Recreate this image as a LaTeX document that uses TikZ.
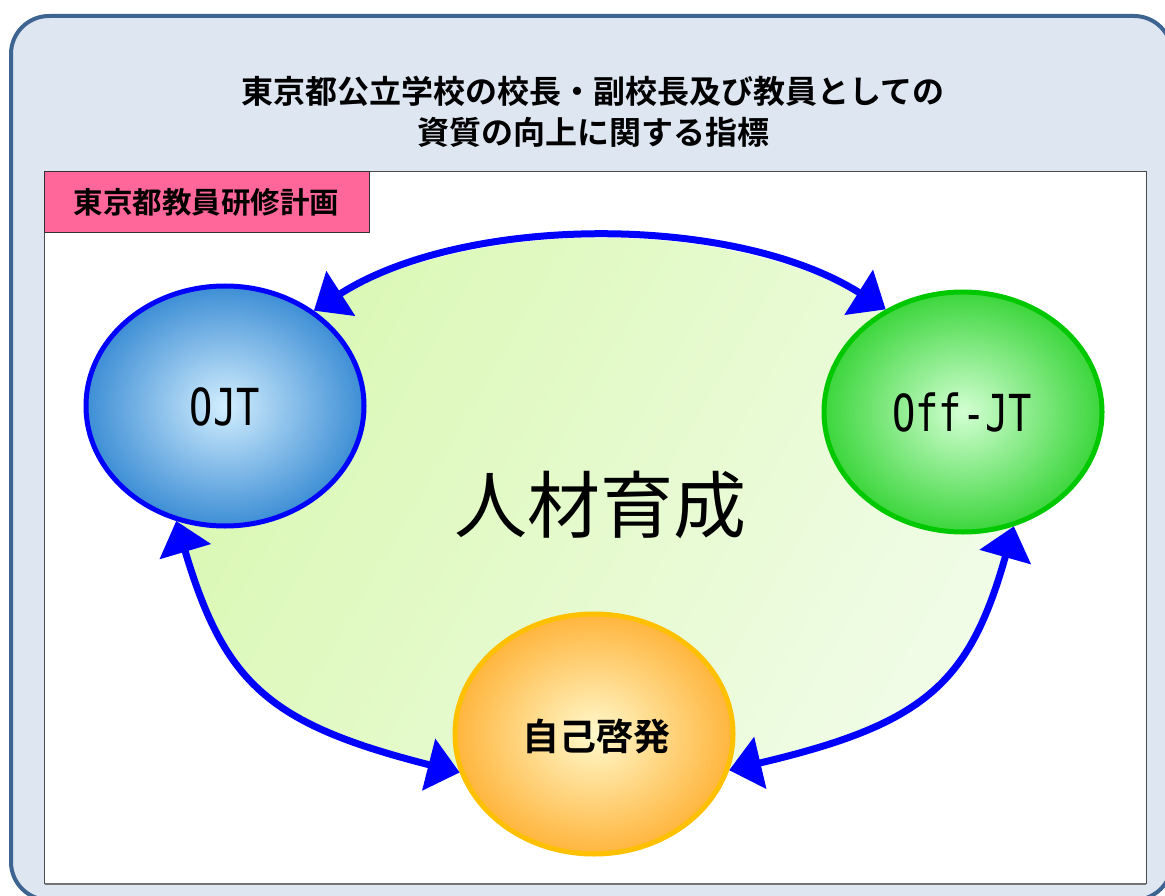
\documentclass[tikz,border=0pt]{standalone}
\usepackage{fontspec}
\newfontfamily\jp[BoldFont={Noto Sans CJK JP Bold}]{Noto Sans CJK JP}
\newfontfamily\monofnt{DejaVu Sans Mono}
\usetikzlibrary{shapes.geometric,arrows.meta}
\definecolor{frameblue}{HTML}{3E6591}
\definecolor{panelfill}{HTML}{DEE6F2}
\definecolor{pinkfill}{HTML}{FF6699}
\definecolor{greenA}{HTML}{DAF8B3}
\definecolor{greenB}{HTML}{F0FCE6}
\definecolor{ojtin}{HTML}{D2EEFE}
\definecolor{ojtout}{HTML}{3D8ED5}
\definecolor{offin}{HTML}{D3FFD3}
\definecolor{offout}{HTML}{3CD63C}
\definecolor{offline}{HTML}{00C800}
\definecolor{jin}{HTML}{FFF9CC}
\definecolor{jout}{HTML}{FFB53D}
\definecolor{jline}{HTML}{FFC000}
\definecolor{arrowblue}{HTML}{0000FF}
\tikzset{
  bubble/.style={ellipse, minimum width=278pt, minimum height=240pt, inner sep=0pt, line width=5pt, shade},
  cyc/.style={draw=arrowblue, line width=7pt,
    {Triangle[length=32pt,width=52pt]}-{Triangle[length=32pt,width=52pt]}},
  monolabel/.style={font=\monofnt\fontsize{51pt}{51pt}\selectfont},
}
\begin{document}
\begin{tikzpicture}[x=1pt,y=-1pt]
\useasboundingbox (0,0) rectangle (1165,896);
\clip (0,0) rectangle (1165,896);
\fill[white] (0,0) rectangle (1165,896);
% outer panel
\draw[fill=panelfill, draw=frameblue, line width=4pt, rounded corners=38pt] (11,16) rectangle (1172,900);
\node[font=\jp\bfseries\fontsize{32pt}{41pt}\selectfont, align=center] (title) at (593,112)
  {東京都公立学校の校長・副校長及び教員としての\\資質の向上に関する指標};
% white panel
\draw[fill=white, draw=black!70, line width=1pt] (44,172) rectangle (1146,883);
\draw[black!55, line width=2pt] (45,883.5) -- (1146,883.5);
\node[draw=black!80, fill=pinkfill, line width=1pt, minimum width=325pt, minimum height=61pt,
      inner sep=0pt, font=\jp\bfseries\fontsize{29.5pt}{30pt}\selectfont] (plan) at (206.5,202.5) {東京都教員研修計画};
% green background
\shade[left color=greenA, right color=greenB, shading angle=60]
  (177,521) .. controls (224.5,684) and (269.7,724.3) .. (459,773) -- (732,770)
  .. controls (924.3,724.3) and (969.5,684) .. (1013,523) -- (885,309)
  .. controls (733.7,213.2) and (464.3,214.2) .. (313,310) -- cycle;
% bubbles
\node[bubble, draw=arrowblue, inner color=ojtin, outer color=ojtout] (ojt) at (225,406) {};
\node[bubble, draw=offline, inner color=offin, outer color=offout] (offjt) at (963,412) {};
\node[bubble, draw=jline, inner color=jin, outer color=jout] (jiko) at (594,734) {};
\node[monolabel] (ojtt) at (225,407) {\scalebox{0.76}[1]{OJT}};
\node[monolabel] (offt) at (962,412) {\scalebox{0.76}[1]{Off-JT}};
\node[font=\jp\bfseries\fontsize{37pt}{37pt}\selectfont] (jikot) at (596,736) {自己啓発};
\node[font=\jp\fontsize{73pt}{73pt}\selectfont] (core) at (600,505) {人材育成};
% cycle arrows
\draw[cyc] (ojt.47.5) .. controls (464.3,214.2) and (733.7,213.2) .. (offjt.127.1);
\draw[cyc] (ojt.247.5) .. controls (224.5,684) and (269.7,724.3) .. (jiko.196);
\draw[cyc] (offjt.294.3) .. controls (969.5,684) and (924.3,724.3) .. (jiko.345.4);
\end{tikzpicture}
\end{document}
